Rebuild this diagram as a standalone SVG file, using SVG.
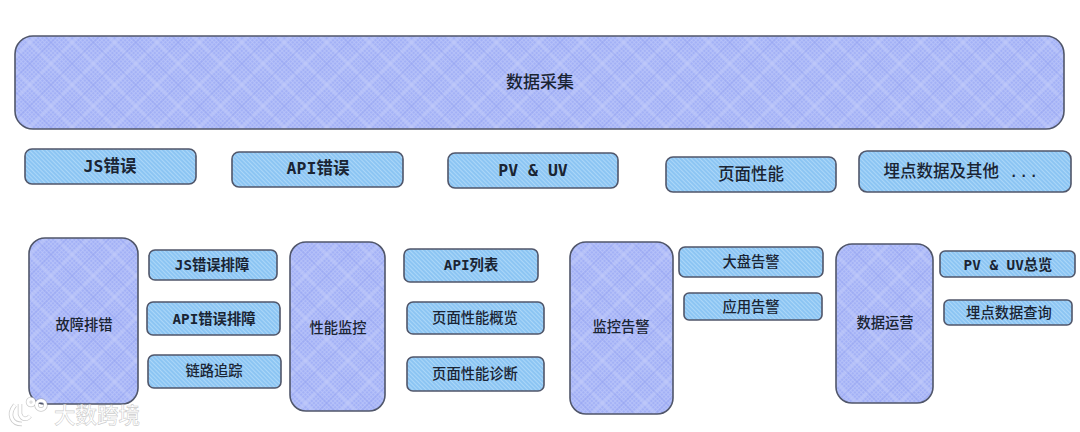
<svg xmlns="http://www.w3.org/2000/svg" width="1080" height="432" viewBox="0 0 1080 432">
<style>
text{font-family:"DejaVu Sans Mono","Noto Sans CJK SC",monospace;text-anchor:middle;dominant-baseline:central;fill:#1a2433;font-weight:700}
.big{fill:url(#hp);stroke:#50566a;stroke-width:1.6}
.sm{fill:url(#hb);stroke:#50566a;stroke-width:1.6}
.t0{font-size:17px}
.t1{font-size:16.500px}
.t2{font-size:14.300px}
.cjk{font-weight:500}
.wm{font-family:"Noto Sans CJK SC",sans-serif;font-size:21.500px;font-weight:500;fill:#fff;stroke:#a8a8a8;stroke-width:.6;stroke-opacity:.6}
</style>
<defs>
<pattern id="hp" width="30" height="30" patternUnits="userSpaceOnUse" patternTransform="rotate(45)">
<rect width="30" height="30" fill="#a3b1f6"/>
<path d="M0 1.500H30M0 4.500H30M0 7.500H30M0 10.500H30M0 13.500H30M0 16.500H30M0 19.500H30M0 22.500H30M0 25.500H30M0 28.500H30M1.500 0V30M4.500 0V30M7.500 0V30M10.500 0V30M13.500 0V30M16.500 0V30M19.500 0V30M22.500 0V30M25.500 0V30M28.500 0V30" stroke="#b9c4f9" stroke-width=".8"/>
<path d="M0 9H30M21 0V30" stroke="#c6cffb" stroke-width="1"/>
<path d="M0 24H30M6 0V30" stroke="#94a3f1" stroke-width=".7"/>
</pattern>
<pattern id="hb" width="3" height="3" patternUnits="userSpaceOnUse" patternTransform="rotate(45)">
<rect width="3" height="3" fill="#8cc5f3"/>
<path d="M0 1.500H3" stroke="#acd7f8" stroke-width="1"/>
</pattern>
</defs>
<rect width="1080" height="432" fill="#fff"/>
<g id="connectors"/>
<g id="n-collect"><rect class="big" x="15" y="36" width="1049" height="93" rx="18"/><text class="t0 cjk" x="540" y="82">数据采集</text></g>
<g id="n-js"><rect class="sm" x="25" y="149" width="171" height="35" rx="7"/><text class="t1" x="110" y="166">JS错误</text></g>
<g id="n-api"><rect class="sm" x="232" y="152" width="171" height="35" rx="7"/><text class="t1" x="318" y="168">API错误</text></g>
<g id="n-pv"><rect class="sm" x="448" y="153" width="170" height="35" rx="7"/><text class="t1" x="533" y="170">PV &amp; UV</text></g>
<g id="n-perf"><rect class="sm" x="666" y="157" width="170" height="35" rx="7"/><text class="t1 cjk" x="751" y="174">页面性能</text></g>
<g id="n-track"><rect class="sm" x="859" y="151" width="212" height="41" rx="8"/><text class="t1 cjk" x="961" y="171">埋点数据及其他 ...</text></g>
<g id="n-fault"><rect class="big" x="29" y="238" width="109" height="166" rx="16"/><text class="t2 cjk" x="84" y="325">故障排错</text></g>
<g id="n-fault1"><rect class="sm" x="149" y="250" width="128" height="30" rx="6"/><text class="t2" x="212" y="265">JS错误排障</text></g>
<g id="n-fault2"><rect class="sm" x="147" y="302" width="133" height="33" rx="6"/><text class="t2" x="214" y="319">API错误排障</text></g>
<g id="n-fault3"><rect class="sm" x="148" y="355" width="133" height="33" rx="6"/><text class="t2 cjk" x="214" y="371">链路追踪</text></g>
<g id="n-monitor"><rect class="big" x="290" y="242" width="95" height="169" rx="16"/><text class="t2 cjk" x="338" y="328">性能监控</text></g>
<g id="n-mon1"><rect class="sm" x="404" y="249" width="134" height="33" rx="6"/><text class="t2" x="471" y="265">API列表</text></g>
<g id="n-mon2"><rect class="sm" x="407" y="302" width="137" height="32" rx="6"/><text class="t2 cjk" x="475" y="318">页面性能概览</text></g>
<g id="n-mon3"><rect class="sm" x="407" y="357" width="137" height="34" rx="6"/><text class="t2 cjk" x="475" y="374">页面性能诊断</text></g>
<g id="n-alert"><rect class="big" x="570" y="242" width="103" height="172" rx="16"/><text class="t2 cjk" x="621" y="327">监控告警</text></g>
<g id="n-alert1"><rect class="sm" x="679" y="247" width="144" height="30" rx="6"/><text class="t2 cjk" x="751" y="262">大盘告警</text></g>
<g id="n-alert2"><rect class="sm" x="684" y="293" width="138" height="27" rx="5"/><text class="t2 cjk" x="751" y="307">应用告警</text></g>
<g id="n-ops"><rect class="big" x="836" y="244" width="97" height="159" rx="16"/><text class="t2 cjk" x="885" y="323">数据运营</text></g>
<g id="n-ops1"><rect class="sm" x="940" y="251" width="135" height="26" rx="5"/><text class="t2" x="1008" y="265">PV &amp; UV总览</text></g>
<g id="n-ops2"><rect class="sm" x="944" y="300" width="128" height="25" rx="5"/><text class="t2 cjk" x="1009" y="313">埋点数据查询</text></g>
<g id="watermark">
<g fill="none">
<g stroke="#a8a8a8" stroke-width="4.500" stroke-opacity=".6"><path d="M15 405C7 415 12 424 22 424M20 404V414C22 420 27 420 30 416"/><circle cx="31" cy="402" r="3"/><circle cx="41" cy="405" r="4.500"/></g>
<g stroke="#fff" stroke-width="3"><path d="M15 405C7 415 12 424 22 424M20 404V414C22 420 27 420 30 416"/><circle cx="31" cy="402" r="3"/><circle cx="41" cy="405" r="4.500"/></g>
</g>
<text class="wm" x="97" y="413">大数跨境</text>
</g>
</svg>
